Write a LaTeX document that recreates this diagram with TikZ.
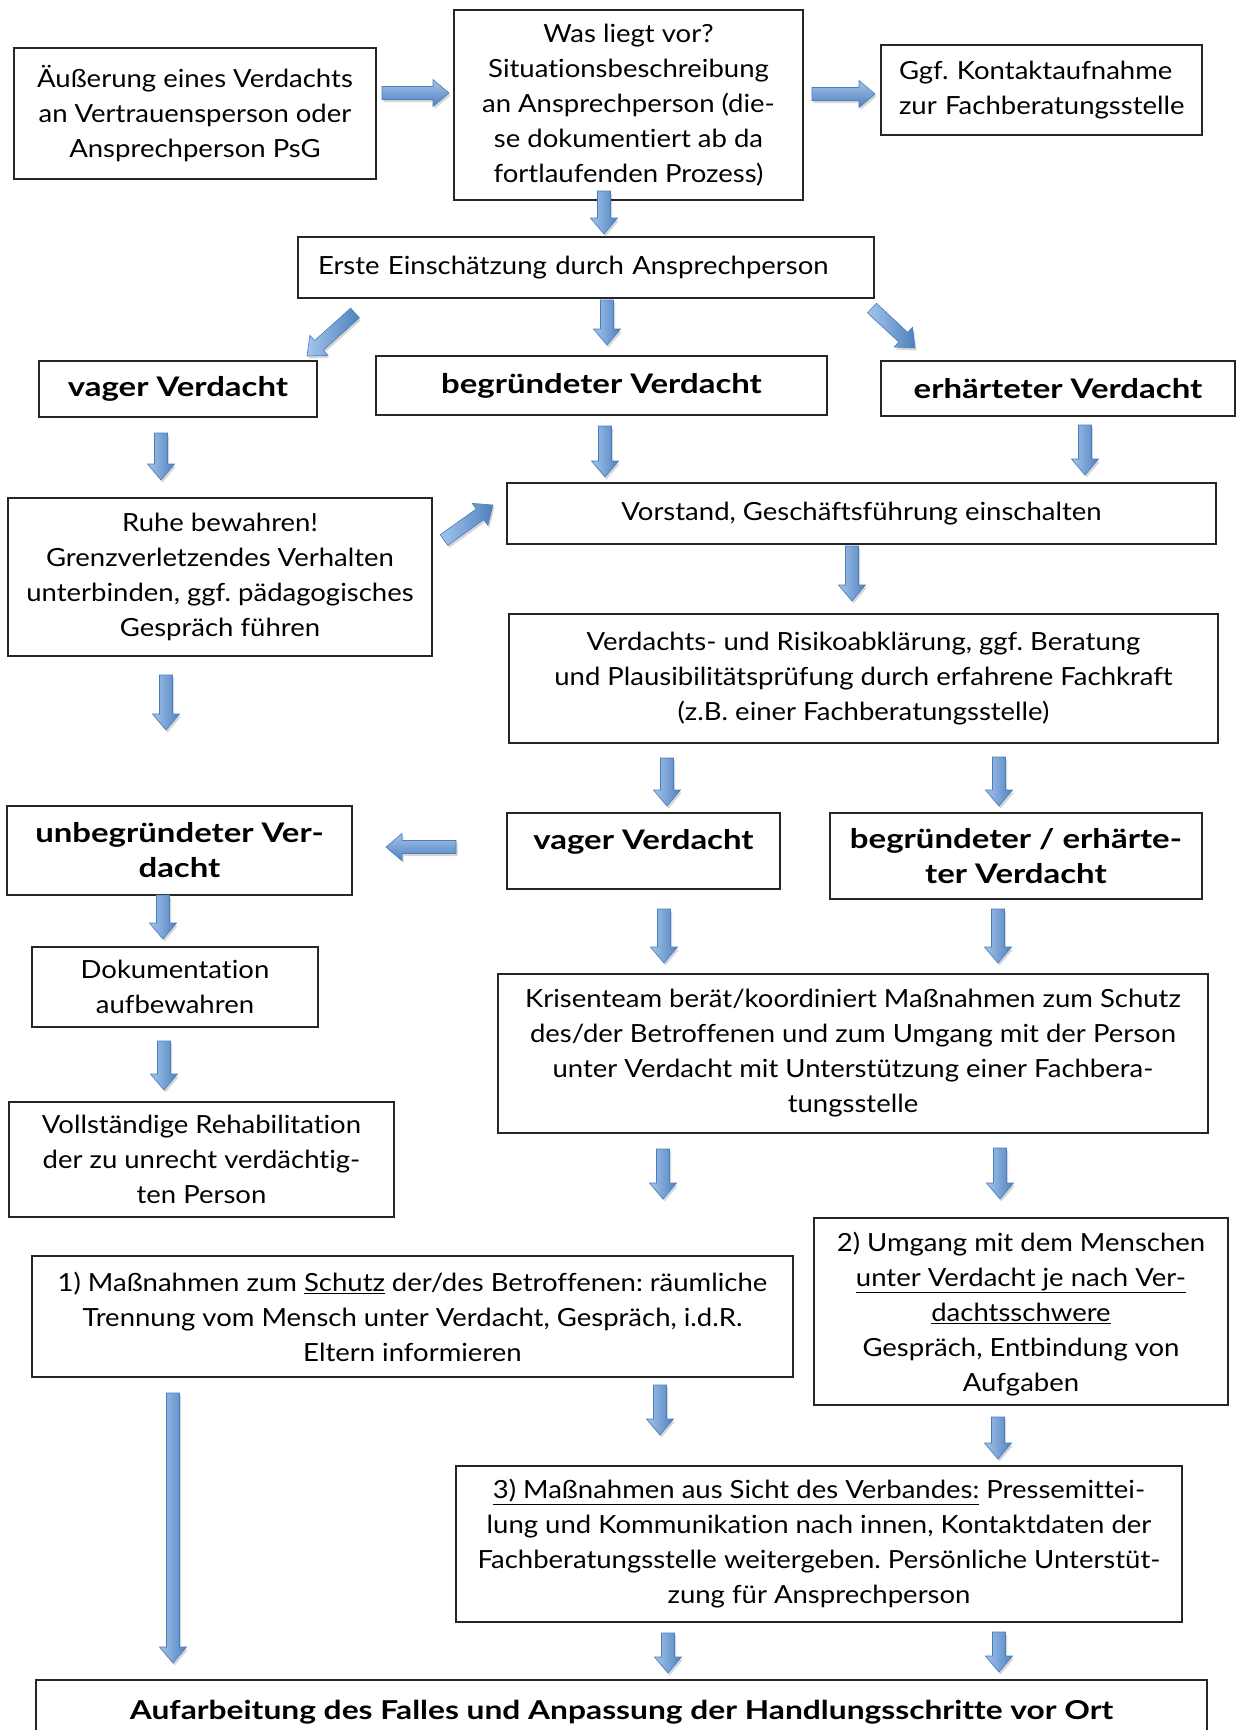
\documentclass[tikz,border=0pt]{standalone}
\usepackage{fontspec}
\setmainfont{Lato}[FakeStretch=1.1, Ligatures=NoCommon]
\newfontfamily\blato{Lato}[FakeStretch=1.22, Ligatures=NoCommon]
\usetikzlibrary{calc}
\definecolor{arrlight}{HTML}{A3C4EC}
\definecolor{arrdark}{HTML}{4F81BD}
\definecolor{arrborder}{HTML}{4A7EBB}
\newcommand{\blockarrow}[3][left color=arrlight,right color=arrdark]{%
  \coordinate (bk) at ($(#3)!16pt!(#2)$);
  \fill[black,opacity=0.16,transform canvas={shift={(1.5pt,-2.5pt)}}]
    ($(#2)!6.5pt!90:(#3)$) -- ($(bk)!6.5pt!90:(#3)$) -- ($(bk)!13.5pt!90:(#3)$) -- (#3)
    -- ($(bk)!13.5pt!-90:(#3)$) -- ($(bk)!6.5pt!-90:(#3)$) -- ($(#2)!6.5pt!-90:(#3)$) -- cycle;
  \path[#1,draw=arrborder,line width=0.6pt]
    ($(#2)!6.5pt!90:(#3)$) -- ($(bk)!6.5pt!90:(#3)$) -- ($(bk)!13.5pt!90:(#3)$) -- (#3)
    -- ($(bk)!13.5pt!-90:(#3)$) -- ($(bk)!6.5pt!-90:(#3)$) -- ($(#2)!6.5pt!-90:(#3)$) -- cycle;
}
\begin{document}
\frenchspacing
\begin{tikzpicture}[x=1pt,y=-1pt,
  box/.style={draw=black!85, line width=1.1pt, fill=white, align=center, inner sep=0pt,
    font=\fontsize{25}{35}\selectfont},
  bbox/.style={box, font=\fontsize{27}{35}\selectfont\blato\bfseries}]
\useasboundingbox (0,0) rectangle (1236,1730);
\clip (0,0) rectangle (1236,1730);
\fill[white] (0,0) rectangle (1236,1730);

% boxes
\node[box, minimum width=362pt, minimum height=131pt] (n1) at (195,113.5)
  {Äußerung eines Verdachts\\an Vertrauensperson oder\\Ansprechperson PsG};
\node[box, minimum width=349pt, minimum height=190pt] (n2) at (628.5,105)
  {Was liegt vor?\\Situationsbeschreibung\\an Ansprechperson (die-\\se dokumentiert ab da\\fortlaufenden Prozess)};
\node[box, text width=303pt, inner xsep=9pt, align=left, minimum height=90pt] (n3) at (1041.5,90)
  {\hspace*{9pt}Ggf. Kontaktaufnahme\\\hspace*{9pt}zur Fachberatungsstelle};
\node[box, text width=536pt, inner xsep=20pt, align=left, minimum height=61pt] (n4) at (586,267.5)
  {Erste Einschätzung durch Ansprechperson};
\node[bbox, minimum width=278pt, minimum height=56pt] (n5) at (178,389) {vager Verdacht};
\node[bbox, minimum width=451pt, minimum height=59pt] (n6) at (601.5,385.5) {begründeter Verdacht};
\node[bbox, minimum width=354pt, minimum height=55pt] (n7) at (1058,388.5) {erhärteter Verdacht};
\node[box, minimum width=424pt, minimum height=158pt] (n8) at (220,577)
  {Ruhe bewahren!\\Grenzverletzendes Verhalten\\unterbinden, ggf. pädagogisches\\Gespräch führen};
\node[box, minimum width=709pt, minimum height=61pt] (n9) at (861.5,513.5)
  {Vorstand, Geschäftsführung einschalten};
\node[box, minimum width=709pt, minimum height=129pt] (n10) at (863.5,678.5)
  {Verdachts- und Risikoabklärung, ggf. Beratung\\und Plausibilitätsprüfung durch erfahrene Fachkraft\\(z.B. einer Fachberatungsstelle)};
\node[bbox, minimum width=345pt, minimum height=89pt] (n11) at (179.5,850.5)
  {unbegründeter Ver-\\dacht};
\node[bbox, minimum width=273pt, minimum height=76pt, text depth=24pt] (n12) at (643.5,851)
  {vager Verdacht};
\node[bbox, minimum width=372pt, minimum height=86pt] (n13) at (1016,856)
  {begründeter / erhärte-\\ter Verdacht};
\node[box, minimum width=286pt, minimum height=80pt] (n14) at (175,987)
  {Dokumentation\\aufbewahren};
\node[box, minimum width=710pt, minimum height=159pt] (n15) at (853,1053.5)
  {Krisenteam berät/koordiniert Maßnahmen zum Schutz\\des/der Betroffenen und zum Umgang mit der Person\\unter Verdacht mit Unterstützung einer Fachbera-\\tungsstelle};
\node[box, minimum width=385pt, minimum height=115pt] (n16) at (201.5,1159.5)
  {Vollständige Rehabilitation\\der zu unrecht verdächtig-\\ten Person};
\node[box, minimum width=761pt, minimum height=121pt] (n17) at (412.5,1316.5)
  {1) Maßnahmen zum \underline{Schutz} der/des Betroffenen: räumliche\\Trennung vom Mensch unter Verdacht, Gespräch, i.d.R.\\Eltern informieren};
\node[box, minimum width=414pt, minimum height=187pt, text depth=0pt] (n18) at (1021,1311.5)
  {2) Umgang mit dem Menschen\\\underline{unter Verdacht je nach Ver-}\\\underline{dachtsschwere}\\Gespräch, Entbindung von\\Aufgaben};
\node[box, minimum width=726pt, minimum height=156pt] (n19) at (819,1544)
  {\underline{3) Maßnahmen aus Sicht des Verbandes:} Pressemittei-\\lung und Kommunikation nach innen, Kontaktdaten der\\Fachberatungsstelle weitergeben. Persönliche Unterstüt-\\zung für Ansprechperson};
\node[bbox, font=\fontsize{26}{35}\selectfont\blato\bfseries, minimum width=1171pt, minimum height=64pt] (n20) at (621.5,1712)
  {Aufarbeitung des Falles und Anpassung der Handlungsschritte vor Ort};

% arrow end points
\coordinate (a1s) at (382,93);   \coordinate (a1e) at (449,93);
\coordinate (a2s) at (812,94);   \coordinate (a2e) at (875,94);
\coordinate (a3s) at (604,191);  \coordinate (a3e) at (604,234);
\coordinate (a4s) at (355,313);  \coordinate (a4e) at (307,356);
\coordinate (a5s) at (607,300);  \coordinate (a5e) at (607,345);
\coordinate (a6s) at (872,308);  \coordinate (a6e) at (915,348);
\coordinate (a7s) at (161,433);  \coordinate (a7e) at (161,480);
\coordinate (a8s) at (605,426);  \coordinate (a8e) at (605,477);
\coordinate (a9s) at (1085,425); \coordinate (a9e) at (1085,475);
\coordinate (a10s) at (444,540); \coordinate (a10e) at (493,505);
\coordinate (a11s) at (852,546); \coordinate (a11e) at (852,601);
\coordinate (a12s) at (166,675); \coordinate (a12e) at (166,730);
\coordinate (a13s) at (667,758); \coordinate (a13e) at (667,806);
\coordinate (a14s) at (999,757); \coordinate (a14e) at (999,806);
\coordinate (a15s) at (456,847); \coordinate (a15e) at (386,847);
\coordinate (a16s) at (163,895); \coordinate (a16e) at (163,939);
\coordinate (a17s) at (664,909); \coordinate (a17e) at (664,963);
\coordinate (a18s) at (998,909); \coordinate (a18e) at (998,963);
\coordinate (a19s) at (164,1041); \coordinate (a19e) at (164,1090);
\coordinate (a20s) at (663,1149); \coordinate (a20e) at (663,1199);
\coordinate (a21s) at (1000,1148); \coordinate (a21e) at (1000,1199);
\coordinate (a22s) at (173,1393); \coordinate (a22e) at (173,1663);
\coordinate (a23s) at (660,1385); \coordinate (a23e) at (660,1435);
\coordinate (a24s) at (998,1417); \coordinate (a24e) at (998,1459);
\coordinate (a25s) at (668,1633); \coordinate (a25e) at (668,1673);
\coordinate (a26s) at (999,1632); \coordinate (a26e) at (999,1672);

\blockarrow[top color=arrlight,bottom color=arrdark]{a1s}{a1e}
\blockarrow[top color=arrlight,bottom color=arrdark]{a2s}{a2e}
\blockarrow{a3s}{a3e}
\blockarrow{a4s}{a4e}
\blockarrow{a5s}{a5e}
\blockarrow{a6s}{a6e}
\blockarrow{a7s}{a7e}
\blockarrow{a8s}{a8e}
\blockarrow{a9s}{a9e}
\blockarrow{a10s}{a10e}
\blockarrow{a11s}{a11e}
\blockarrow{a12s}{a12e}
\blockarrow{a13s}{a13e}
\blockarrow{a14s}{a14e}
\blockarrow[top color=arrlight,bottom color=arrdark]{a15s}{a15e}
\blockarrow{a16s}{a16e}
\blockarrow{a17s}{a17e}
\blockarrow{a18s}{a18e}
\blockarrow{a19s}{a19e}
\blockarrow{a20s}{a20e}
\blockarrow{a21s}{a21e}
\blockarrow{a22s}{a22e}
\blockarrow{a23s}{a23e}
\blockarrow{a24s}{a24e}
\blockarrow{a25s}{a25e}
\blockarrow{a26s}{a26e}
\end{tikzpicture}
\end{document}
